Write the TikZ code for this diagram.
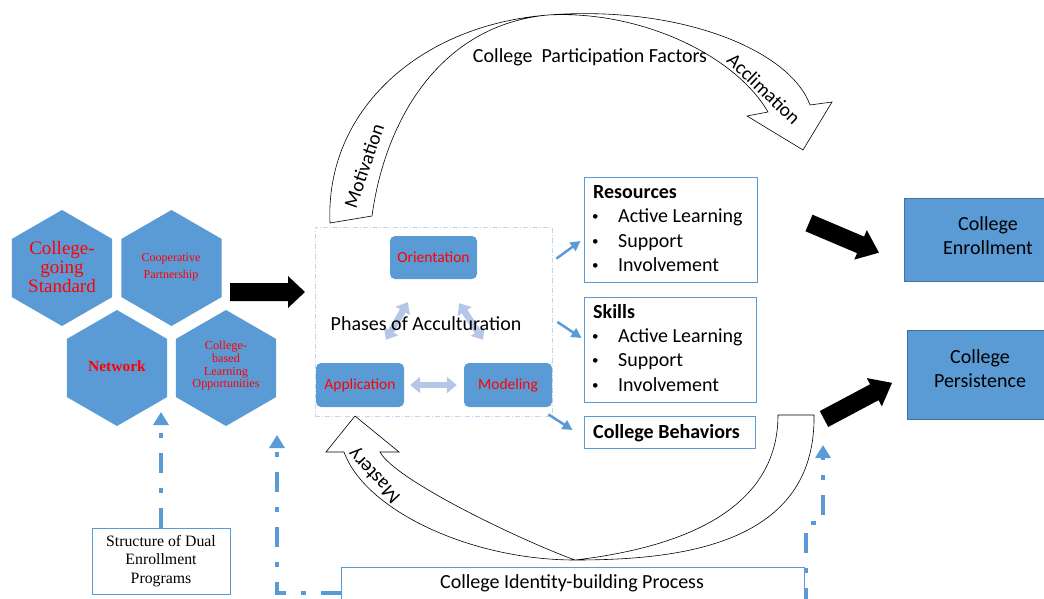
\documentclass[tikz,border=0pt]{standalone}
\usepackage{fontspec}
\setmainfont{Carlito}
\newfontfamily\tnr{Liberation Serif}
\usetikzlibrary{arrows.meta,calc}
\definecolor{hexblue}{HTML}{5B9BD5}
\definecolor{palearrow}{HTML}{B4C7E7}
\definecolor{paleline}{HTML}{BDD7EE}
\definecolor{darkline}{HTML}{41719C}
\definecolor{redtext}{HTML}{FF0000}
\begin{document}
\begin{tikzpicture}[x=1pt,y=-1pt,
  ftw/.style={font=\fontsize{20}{24}\selectfont},
  hextext/.style={text=redtext, align=center, inner sep=0pt},
  phasebox/.style={fill=hexblue, rounded corners=5pt, text=redtext, font=\fontsize{15.5}{18}\selectfont, minimum width=88pt, minimum height=44pt, inner sep=0pt},
  rbox/.style={draw=hexblue, line width=0.9pt, inner sep=0pt},
  outbox/.style={fill=hexblue, draw=darkline, line width=0.8pt, inner sep=0pt},
  itemtext/.style={ftw, anchor=base west, inner sep=0pt},
  bullettext/.style={font=\fontsize{13}{15}\selectfont, anchor=base west, inner sep=0pt},
  bandshape/.style={fill=white, draw=black, line width=0.6pt},
  ddarrow/.style={hexblue, line width=4.5pt, dash pattern=on 20pt off 15pt on 5pt off 15pt, -{Triangle[width=15pt,length=13pt]}},
  bluearrow/.style={hexblue, line width=2.5pt, -{Triangle[width=10pt,length=10pt]}},
  palearr/.style={palearrow, line width=6.5pt, {Triangle[width=16pt,length=10pt]}-{Triangle[width=16pt,length=10pt]}},
  blockarrow/.style={fill=black}
]
\useasboundingbox[fill=white] (0,0) rectangle (1044,599);

% hexagons
\foreach \cx/\cy in {62/268,171.5/268,117/368,226/368}
  \fill[hexblue] (\cx,\cy) +(90:58) -- +(150:58) -- +(210:58) -- +(270:58) -- +(330:58) -- +(30:58) -- cycle;
\node[hextext, font=\tnr\fontsize{19}{19}\selectfont] (h1) at (62,266.5) {College-\\going\\Standard};
\node[hextext, font=\tnr\fontsize{12}{17}\selectfont] (h2) at (171,267) {Cooperative\\Partnership};
\node[hextext, font=\tnr\bfseries\fontsize{15.5}{18}\selectfont] (h3) at (117,366) {Network};
\node[hextext, font=\tnr\fontsize{12.2}{12.7}\selectfont] (h4) at (226,366) {College-\\based\\Learning\\Opportunities};

% black block arrow to phases
\begin{scope}[shift={(230,292)}]
  \fill[blockarrow] (0,-9) -- (58,-9) -- (58,-16) -- (75,0) -- (58,16) -- (58,9) -- (0,9) -- cycle;
\end{scope}

% phases box
\node[draw=paleline, line width=0.8pt, dash pattern=on 5pt off 2pt on 1pt off 2pt, minimum width=237pt, minimum height=189pt, inner sep=0pt] (phase) at (433.5,321.5) {};
\node[phasebox, minimum width=87pt, minimum height=43pt] (orient) at (433.5,257.5) {Orientation};
\node[phasebox] (appl) at (360,385) {Application};
\node[phasebox] (model) at (508,385) {Modeling};

\draw[palearr] ($(appl.east)+(6,0)$) -- ($(model.west)+(-7,0)$);
\draw[palearr] ($(orient.south west)+(18,23)$) -- ($(appl.north)+(26,-23)$);
\draw[palearr] ($(orient.south east)+(-18,24)$) -- ($(model.north)+(-25,-23)$);
\node[ftw, inner sep=0pt] (phtext) at (426,324) {Phases of Acculturation};

% right boxes
\node[rbox, minimum width=173pt, minimum height=105pt] (res) at (670.5,229.5) {};
\node[rbox, minimum width=172pt, minimum height=105pt] (skills) at (670,349.5) {};
\node[rbox, minimum width=171pt, minimum height=32pt] (behav) at (669.5,432) {};

\node[itemtext, font=\bfseries\fontsize{20}{24}\selectfont] (restitle) at (593,198) {Resources};
\node[bullettext] (rb1) at (592,220.5) {•};
\node[itemtext] (ri1) at (618,222.5) {Active Learning};
\node[bullettext] (rb2) at (592,245) {•};
\node[itemtext] (ri2) at (618,247) {Support};
\node[bullettext] (rb3) at (592,269) {•};
\node[itemtext] (ri3) at (618,271) {Involvement};

\node[itemtext, font=\bfseries\fontsize{20}{24}\selectfont] (sktitle) at (593,318) {Skills};
\node[bullettext] (sb1) at (592,340) {•};
\node[itemtext] (si1) at (618,342) {Active Learning};
\node[bullettext] (sb2) at (592,364.5) {•};
\node[itemtext] (si2) at (618,366.5) {Support};
\node[bullettext] (sb3) at (592,389) {•};
\node[itemtext] (si3) at (618,391) {Involvement};

\node[itemtext, font=\bfseries\fontsize{20}{24}\selectfont] (behtext) at (593,438) {College Behaviors};

\draw[bluearrow] ($(phase.north east)+(4,32)$) -- ($(res.west)+(-3,11.5)$);
\draw[bluearrow] ($(phase.east)+(5,0.5)$) -- ($(skills.west)+(-2,-11.5)$);
\draw[bluearrow] ($(phase.south east)+(-4,-2)$) -- ($(behav.west)+(-11,-2)$);

% outcome boxes
\node[outbox, minimum width=144pt, minimum height=83pt] (enroll) at (976,239.5) {};
\node[ftw, align=center, inner sep=0pt] (enrolltext) at (988,235.5) {College\\Enrollment};
\node[outbox, minimum width=141pt, minimum height=89pt] (persist) at (977.5,374.5) {};
\node[ftw, align=center, inner sep=0pt] (persisttext) at (980,369) {College\\Persistence};

\begin{scope}[shift={(809,223)}, rotate=-23]
  \fill[blockarrow] (0,-9) -- (56,-9) -- (56,-16) -- (76,0) -- (56,16) -- (56,9) -- (0,9) -- cycle;
\end{scope}
\begin{scope}[shift={(824,419)}, rotate=28]
  \fill[blockarrow] (0,-9) -- (57,-9) -- (57,-16) -- (77,0) -- (57,16) -- (57,9) -- (0,9) -- cycle;
\end{scope}

% top curved arrow
\path[bandshape] (330,223) .. controls (325,110) and (420,25) .. (548,15)
  .. controls (640,10) and (735,55) .. (768,112) -- (747,116) -- (803,150) -- (832,102) -- (810,105)
  .. controls (790,50) and (680,5) .. (548,15)
  .. controls (440,25) and (385,120) .. (372,216) -- cycle;
\node[ftw, font=\fontsize{19.5}{24}\selectfont, rotate=71, inner sep=0pt] (motiv) at (364,166) {Motivation};
\node[ftw, font=\fontsize{19.5}{24}\selectfont, rotate=-44, inner sep=0pt] (accl) at (764,89) {Acclimation};
\node[ftw, inner sep=0pt] (cpf) at (590,57) {College\ \ Participation Factors};

% bottom curved arrow
\path[bandshape] (355,416) -- (399,452) -- (380,452)
  .. controls (395,480) and (520,540) .. (575,560)
  .. controls (680,560) and (816,545) .. (814,415) -- (778,415)
  .. controls (778,520) and (660,550) .. (575,560)
  .. controls (470,560) and (365,510) .. (344,452) -- (326,452) -- cycle;
\node[ftw, rotate=133, inner sep=0pt] (mast) at (375,475) {Mastery};

% bottom boxes
\node[rbox, line width=0.8pt, minimum width=138pt, minimum height=66pt, align=center, font=\tnr\fontsize{15.8}{18.5}\selectfont] (struct) at (161,561) {Structure of Dual\\Enrollment\\Programs};
\node[rbox, line width=0.8pt, minimum width=463pt, minimum height=40pt] (ident) at (572.5,587) {};
\node[ftw, inner sep=0pt] (identtext) at (572,583) {College Identity-building Process};

% dash-dot arrows
\coordinate (t1) at (161,412);
\draw[ddarrow] (struct.north) -- (t1);
\coordinate (a2s) at (341,593);
\coordinate (t2) at (277,435);
\draw[ddarrow] (a2s) -| (t2);
\coordinate (a3s) at (806,600);
\coordinate (a3m) at (823,523);
\coordinate (t3) at (823,445);
\draw[ddarrow, dash phase=8pt] (a3s) |- (a3m) -- (t3);
\end{tikzpicture}
\end{document}
